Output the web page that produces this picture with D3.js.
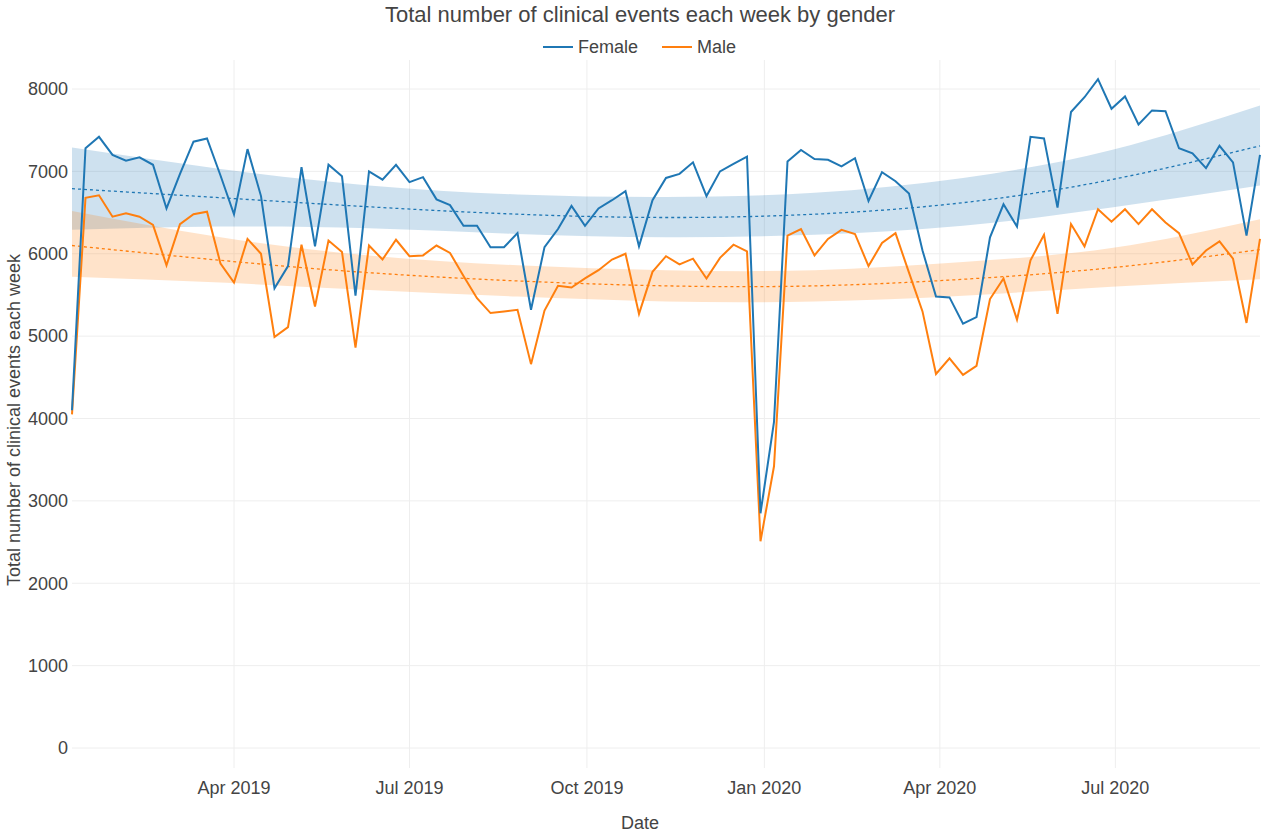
<!DOCTYPE html>
<html>
<head>
<meta charset="utf-8">
<script src="https://cdn.jsdelivr.net/npm/d3@7"></script>
<style>
  body { margin: 0; background: #fff; }
  text { font-family: "Liberation Sans", Arial, sans-serif; fill: #444; }
</style>
</head>
<body>
<svg width="1280" height="835"></svg>
<script>
const startDate = new Date(2019, 0, 7)
const femaleCounts = [4100, 7280, 7420, 7200, 7130, 7170, 7080, 6550, 6970, 7360, 7400, 6950, 6480, 7270, 6700, 5580, 5850, 7050, 6090, 7080, 6940, 5490, 7000, 6900, 7080, 6870, 6930, 6660, 6590, 6340, 6340, 6080, 6080, 6250, 5320, 6080, 6300, 6580, 6340, 6550, 6650, 6760, 6090, 6650, 6920, 6970, 7110, 6700, 7000, 7090, 7180, 2850, 3960, 7120, 7260, 7150, 7140, 7060, 7160, 6640, 6990, 6880, 6730, 6040, 5480, 5470, 5150, 5230, 6200, 6600, 6330, 7420, 7400, 6560, 7720, 7900, 8120, 7760, 7910, 7570, 7740, 7730, 7280, 7220, 7040, 7310, 7110, 6220, 7200]
const maleCounts = [4050, 6680, 6710, 6450, 6490, 6450, 6350, 5860, 6360, 6480, 6510, 5880, 5650, 6180, 6000, 4990, 5110, 6110, 5360, 6160, 6020, 4860, 6100, 5930, 6170, 5970, 5980, 6100, 6010, 5730, 5460, 5280, 5300, 5320, 4660, 5310, 5610, 5590, 5700, 5800, 5930, 6000, 5270, 5780, 5970, 5870, 5940, 5700, 5950, 6110, 6030, 2510, 3420, 6220, 6300, 5980, 6180, 6290, 6240, 5850, 6130, 6250, 5770, 5300, 4540, 4730, 4530, 4640, 5450, 5700, 5200, 5920, 6230, 5270, 6360, 6090, 6540, 6390, 6540, 6360, 6540, 6380, 6250, 5870, 6040, 6150, 5940, 5160, 6180]

// trend fit sampled at anchor weeks
const trendWeeks = [0, 11, 22, 33, 44, 55, 66, 77, 88]
const femaleTrend = [6790, 6680, 6570, 6480, 6440, 6480, 6620, 6900, 7310]
const femaleLow = [6290, 6330, 6310, 6240, 6200, 6230, 6340, 6560, 6830]
const femaleHigh = [7290, 7030, 6830, 6720, 6690, 6740, 6920, 7260, 7800]
const maleTrend = [6100, 5920, 5770, 5670, 5610, 5610, 5690, 5830, 6050]
const maleLow = [5720, 5650, 5560, 5480, 5420, 5420, 5490, 5600, 5690]
const maleHigh = [6520, 6200, 5980, 5860, 5800, 5800, 5900, 6070, 6420]

const yTicks = [0, 1000, 2000, 3000, 4000, 5000, 6000, 7000, 8000]

const weekDate = i => d3.timeDay.offset(startDate, i * 7)
const svg = d3.select("svg")
const x = d3.scaleTime().domain([startDate, weekDate(88)]).range([72, 1260])
const y = d3.scaleLinear().domain([0, 8000]).range([748, 89])

const xTicks = d3.timeMonth.every(3).range(new Date(2019, 3, 1), new Date(2020, 8, 1))

// grid
svg.append("g").selectAll("line").data(yTicks).join("line")
    .attr("x1", 72).attr("x2", 1260)
    .attr("y1", d => y(d)).attr("y2", d => y(d))
    .attr("stroke", "#eee")
svg.append("g").selectAll("line").data(xTicks).join("line")
    .attr("x1", d => x(d)).attr("x2", d => x(d))
    .attr("y1", 60).attr("y2", 768)
    .attr("stroke", "#eee")

// axes labels
svg.append("g").selectAll("text").data(yTicks).join("text")
    .attr("x", 68).attr("y", d => y(d)).attr("dy", "0.35em")
    .attr("text-anchor", "end").attr("font-size", 18)
    .text(d => d)
svg.append("g").selectAll("text").data(xTicks).join("text")
    .attr("x", d => x(d)).attr("y", 794)
    .attr("text-anchor", "middle").attr("font-size", 18)
    .text(d => d3.timeFormat("%b %Y")(d))

// bands and trends
const bands = [
    { low: femaleLow, high: femaleHigh, mid: femaleTrend, color: "#1f77b4", fill: "rgba(31,119,180,0.22)" },
    { low: maleLow, high: maleHigh, mid: maleTrend, color: "#ff7f0e", fill: "rgba(255,127,14,0.22)" },
]
bands.forEach(b => {
    const area = d3.area()
        .x((d, i) => x(weekDate(trendWeeks[i])))
        .y0((d, i) => y(b.low[i]))
        .y1((d, i) => y(b.high[i]))
        .curve(d3.curveNatural)
    svg.append("path").datum(trendWeeks).attr("d", area).attr("fill", b.fill)
})
bands.forEach(b => {
    const line = d3.line()
        .x((d, i) => x(weekDate(trendWeeks[i])))
        .y(d => y(d))
        .curve(d3.curveNatural)
    svg.append("path").datum(b.mid).attr("d", line)
        .attr("fill", "none").attr("stroke", b.color)
        .attr("stroke-width", 1.3).attr("stroke-dasharray", "3,3")
})

// weekly lines
const weekLine = d3.line().x((d, i) => x(weekDate(i))).y(d => y(d))
svg.append("path").datum(maleCounts).attr("d", weekLine)
    .attr("fill", "none").attr("stroke", "#ff7f0e").attr("stroke-width", 2)
svg.append("path").datum(femaleCounts).attr("d", weekLine)
    .attr("fill", "none").attr("stroke", "#1f77b4").attr("stroke-width", 2)

// title, legend
svg.append("text").attr("x", 640).attr("y", 22).attr("text-anchor", "middle")
    .attr("font-size", 22).text("Total number of clinical events each week by gender")
const legend = [{ name: "Female", color: "#1f77b4", x: 543 }, { name: "Male", color: "#ff7f0e", x: 662 }]
legend.forEach(l => {
    svg.append("line").attr("x1", l.x).attr("x2", l.x + 30).attr("y1", 47).attr("y2", 47)
        .attr("stroke", l.color).attr("stroke-width", 2)
    svg.append("text").attr("x", l.x + 35).attr("y", 47).attr("dy", "0.35em")
        .attr("font-size", 18).text(l.name)
})
svg.append("text").attr("x", 640).attr("y", 829).attr("text-anchor", "middle")
    .attr("font-size", 18).text("Date")
svg.append("text").attr("transform", "translate(20,420) rotate(-90)")
    .attr("text-anchor", "middle").attr("font-size", 18)
    .text("Total number of clinical events each week")
</script>
</body>
</html>
